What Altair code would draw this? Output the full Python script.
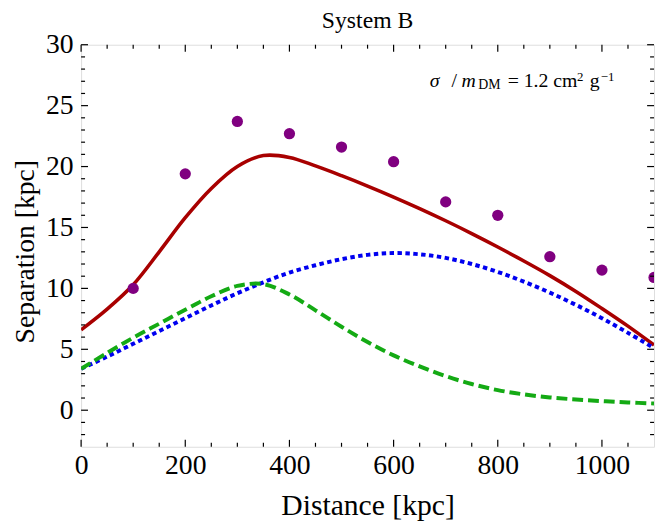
import altair as alt
import pandas as pd

# ---------------- data ----------------
dist_pts = [100, 200, 300, 400, 500, 600, 700, 800, 900, 1000, 1100]
sep_pts = [10.0, 19.4, 23.7, 22.7, 21.6, 20.4, 17.1, 16.0, 12.6, 11.5, 10.9]

curve_x = [0, 50, 100, 150, 200, 250, 300, 350, 400, 450, 500, 550,
           600, 650, 700, 750, 800, 850, 900, 950, 1000, 1050, 1100]
red_sep = [6.6, 8.3, 10.3, 13.0, 15.8, 18.2, 20.0, 20.9, 20.75, 20.05, 19.25, 18.4,
           17.5, 16.55, 15.55, 14.5, 13.4, 12.25, 11.05, 9.75, 8.35, 6.9, 5.35]
blue_sep = [3.4, 4.4, 5.45, 6.5, 7.55, 8.6, 9.6, 10.5, 11.3, 11.9, 12.4, 12.75,
            12.9, 12.8, 12.5, 12.0, 11.35, 10.55, 9.65, 8.65, 7.55, 6.35, 5.1]
green_sep = [3.4, 4.7, 5.95, 7.1, 8.25, 9.35, 10.2, 10.35, 9.5, 8.2, 6.85, 5.6,
             4.5, 3.6, 2.8, 2.15, 1.65, 1.3, 1.05, 0.88, 0.75, 0.64, 0.55]

x_labels = [0, 200, 400, 600, 800, 1000]
y_labels = [0, 5, 10, 15, 20, 25, 30]
x_major = [0, 200, 400, 600, 800, 1000]
x_minor = [50, 100, 150, 250, 300, 350, 450, 500, 550, 650, 700, 750,
           850, 900, 950, 1050]
y_major = [0, 5, 10, 15, 20, 25, 30]
y_minor = [-2, -1, 1, 2, 3, 4, 6, 7, 8, 9, 11, 12, 13, 14, 16, 17, 18, 19,
           21, 22, 23, 24, 26, 27, 28, 29]

title_text = "System B"
x_title = "Distance [kpc]"
y_title = "Separation [kpc]"
anno_text = ["σ", "/", "m", "DM", "=", "1.2", "cm", "2", "g", "−1"]

# ---------------- chart ----------------
W, H = 580, 407
FONT = "Liberation Serif"
xs = alt.Scale(domain=[0, 1100], nice=False, zero=False)
ys = alt.Scale(domain=[-3, 30], nice=False, zero=False)

x_axis = alt.Axis(values=x_labels, format="d", labelFont=FONT, labelFontSize=28,
                  labelColor="black", labelPadding=5, labelFlush=False,
                  ticks=False, domain=False, grid=False,
                  title=x_title, titleFont=FONT, titleFontSize=30,
                  titleFontWeight="normal", titleColor="black",
                  titleX=W / 2, titleY=69, titleBaseline="alphabetic",
                  titleAlign="center")
y_axis = alt.Axis(values=y_labels, format="d", labelFont=FONT, labelFontSize=28,
                  labelColor="black", labelPadding=8, labelFlush=False,
                  ticks=False, domain=False, grid=False,
                  title=y_title, titleFont=FONT, titleFontSize=28,
                  titleFontWeight="normal", titleColor="black",
                  titleX=-48, titleY=209, titleAngle=270,
                  titleBaseline="alphabetic", titleAlign="center")

curves = pd.DataFrame({"d": curve_x, "red": red_sep, "blue": blue_sep,
                       "green": green_sep})
points = pd.DataFrame({"d": dist_pts, "s": sep_pts})


def line(col, color, width, dash=None):
    kw = dict(color=color, strokeWidth=width, interpolate="catmull-rom", clip=True)
    if dash:
        kw["strokeDash"] = dash
        kw["strokeCap"] = "butt"
    return alt.Chart(curves).mark_line(**kw).encode(
        x=alt.X("d:Q", scale=xs, axis=x_axis),
        y=alt.Y(f"{col}:Q", scale=ys, axis=y_axis),
    )


red_l = line("red", "#A80000", 3.6)
blue_l = line("blue", "#0000F0", 4, [4.5, 3.5])
green_l = line("green", "#14AA14", 4, [11, 5])

dots = alt.Chart(points).mark_circle(size=130, color="#800080", opacity=1,
                                     clip=True).encode(
    x=alt.X("d:Q", scale=xs, axis=x_axis),
    y=alt.Y("s:Q", scale=ys, axis=y_axis),
)


def xticks(vals, length, top):
    df = pd.DataFrame({"v": vals})
    y0 = 0 if top else H
    y1 = length if top else H - length
    return alt.Chart(df).mark_rule(color="black", strokeWidth=1.2).encode(
        x=alt.X("v:Q", scale=xs, axis=x_axis), y=alt.value(y0), y2=alt.value(y1))


def yticks(vals, length, right):
    df = pd.DataFrame({"v": vals})
    x0 = W if right else 0
    x1 = W - length if right else length
    return alt.Chart(df).mark_rule(color="black", strokeWidth=1.2).encode(
        y=alt.Y("v:Q", scale=ys, axis=y_axis), x=alt.value(x0), x2=alt.value(x1))


tick_layers = [
    xticks(x_major, 7, False), xticks(x_minor, 4, False),
    xticks(x_major, 7, True), xticks(x_minor, 4, True),
    yticks(y_major, 7, False), yticks(y_minor, 4, False),
    yticks(y_major, 7, True), yticks(y_minor, 4, True),
]


def txt(t, px, py, size, style="normal", align="left"):
    return alt.Chart(pd.DataFrame({"t": [t]})).mark_text(
        font=FONT, fontSize=size, fontStyle=style, align=align,
        baseline="alphabetic", color="black").encode(
        x=alt.value(px), y=alt.value(py), text="t:N")


anno_pos = [(353, 43, 20, "italic"), (375, 43, 20, "normal"),
            (385, 43, 20, "italic"), (402, 45, 14, "normal"),
            (432, 43, 20, "normal"), (448, 43, 20, "normal"),
            (478, 43, 20, "normal"), (502, 37, 13, "normal"),
            (515, 43, 20, "normal"), (526, 37, 13, "normal")]
anno_layers = [txt(t, p[0], p[1], p[2], p[3])
               for t, p in zip(anno_text, anno_pos)]

title_layer = txt(title_text, W / 2, -17, 24, align="center")

chart = alt.layer(
    red_l, blue_l, green_l, dots, *tick_layers, *anno_layers, title_layer
).properties(
    width=W, height=H,
    autosize=alt.AutoSizeParams(type="none"),
    padding={"left": 74, "top": 34, "right": 2, "bottom": 74},
).configure_view(stroke="black", strokeWidth=1.5).configure(background="white")

chart.save("out.html", embed_options={"renderer": "svg", "actions": False})
